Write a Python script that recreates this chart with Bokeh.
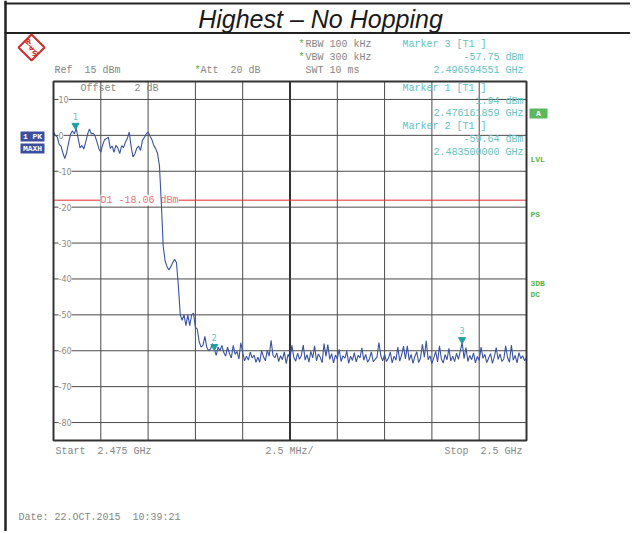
import numpy as np
from bokeh.plotting import figure
from bokeh.models import Range1d, Label
from bokeh.embed import file_html
from bokeh.resources import INLINE
from bokeh.core.properties import value

# ---------------- data ----------------
TITLE = "Highest \u2013 No Hopping"
START_GHZ = 2.475
STOP_GHZ = 2.500
REF_DBM = 15.0
BOTTOM_DBM = -85.0
X_DIVS = 10
Y_TICKS = [10, 0, -10, -20, -30, -40, -50, -60, -70, -80]
Y_TICK_LABELS = ["10", "0", "-10", "-20", "-30", "-40", "-50", "-60", "-70", "-80"]

LEVELS_DBM = [
    0.9, 0.0, -0.5, -2.5, -3.0, -5.0, -6.5, -4.7, -2.0, 0.3,
    1.3, 0.4, 1.94, -0.8, -3.5, -2.8, -3.8, -1.9, 0.3, 1.8,
    0.4, 0.6, -0.2, -1.9, -3.7, -4.7, -2.6, -1.2, -0.9, -0.5,
    -3.6, -3.0, -4.7, -2.8, -3.5, -5.1, -2.9, -3.4, -1.9, -0.9,
    0.9, -3.0, -6.0, -5.2, -3.6, -3.0, -4.2, -1.4, -0.6, 0.4,
    0.9, -0.2, -1.2, -2.8, -3.7, -5.0, -8.5,
    -19.0, -31.0, -35.0, -36.5, -37.5, -36.5, -35.5, -34.5, -35.5, -42.0,
    -50.0, -51.5, -50.0, -53.0, -50.0, -53.0, -50.0, -49.5, -53.5, -54.0,
    -57.5, -59.0, -58.5, -56.0, -59.0, -60.0, -59.5, -58.0, -59.64, -61.3,
    -59.0, -60.0, -58.5,
    -60.5, -61.5, -59.0, -60.8, -62.0, -58.5, -61.0, -60.2, -62.3, -57.8,
    -60.5, -62.8, -61.5, -62.6, -60.4, -62.0, -61.2, -63.2, -61.8, -63.2,
    -60.0, -61.7, -62.8, -59.9, -61.5, -57.1, -61.2, -62.0, -60.6, -63.0,
    -61.4, -62.5, -60.3, -63.6, -61.0, -62.2, -58.5, -61.8, -62.9, -60.7,
    -62.4, -61.3, -58.4, -62.6, -61.1, -63.2, -60.2, -62.0, -58.6, -62.8,
    -60.9, -61.9, -63.3, -58.0, -61.6, -58.3, -62.4, -60.8, -63.4, -61.2,
    -62.3, -59.6, -63.0, -61.4, -62.1, -60.1, -63.5, -61.5, -62.7, -60.5,
    -63.1, -61.3, -62.0, -59.2, -62.6, -61.0, -63.2, -62.2, -60.3, -63.0,
    -62.4, -61.7, -57.7, -61.4, -62.8, -61.0, -63.0, -62.1, -60.4, -63.4,
    -61.5, -62.6, -59.0, -62.9, -61.2, -58.7, -62.3, -58.6, -62.7, -61.0,
    -63.5, -61.6, -60.3, -63.3, -62.0, -58.2, -61.8, -57.2, -62.5, -61.4,
    -63.6, -62.0, -60.2, -63.1, -58.6, -62.3, -63.4, -61.1, -62.5, -59.3,
    -62.9, -61.5, -63.0, -60.7, -62.4, -60.1, -57.75, -62.2, -59.1, -63.0,
    -61.3, -62.5, -60.6, -63.4, -61.6, -62.7, -59.0, -62.1, -61.0, -63.3,
    -62.0, -60.8, -63.5, -61.7, -59.1, -62.4, -60.9, -63.0, -62.3, -58.6,
    -61.9, -63.2, -58.4, -62.6, -61.3, -63.4, -60.5, -62.2, -61.4, -62.8,
    -61.9,
]

MARKER_IDS = ["1", "2", "3"]
MARKER_FREQ_GHZ = [2.476161859, 2.4835, 2.496594551]
MARKER_LEVEL_DBM = [1.94, -59.64, -57.75]
D1_DBM = -18.06

# sweep points (evenly spaced analyzer sweep grid)
N = len(LEVELS_DBM)
FREQS_GHZ = list(np.linspace(START_GHZ, STOP_GHZ, N))

# ---------------- geometry ----------------
W, H = 630, 531
X0, Y0 = 0, 0                       # page offset of the canvas
PA_L, PA_R, PA_T, PA_B = 53, 526, 81, 440   # plot area in page pixels

p = figure(width=W, height=H,
           x_range=Range1d(X0, X0 + W), y_range=Range1d(Y0 + H, Y0),
           min_border=0, toolbar_location=None, output_backend="svg",
           x_axis_location=None, y_axis_location=None)
p.outline_line_color = None
p.background_fill_color = "white"
p.border_fill_color = "white"
p.grid.visible = False

gpp = (STOP_GHZ - START_GHZ) / (PA_R - PA_L)
dpp = (REF_DBM - BOTTOM_DBM) / (PA_B - PA_T)
p.extra_x_ranges = {"f": Range1d(START_GHZ - (PA_L - X0) * gpp,
                                 STOP_GHZ + (X0 + W - PA_R) * gpp)}
p.extra_y_ranges = {"db": Range1d(BOTTOM_DBM - (Y0 + H - PA_B) * dpp,
                                  REF_DBM + (PA_T - Y0) * dpp)}

MONO = "Liberation Mono"
GRAY = "#858585"
CYAN = "#5fc3c3"
GREEN = "#55b24b"
NB = "\u00a0"


def txt(x, y, s, color=GRAY, size="10px", font=MONO, align="left",
        baseline="middle", style="normal"):
    s = s.replace(" ", NB)
    p.text(x=[x], y=[y], text=[s], text_font=value(font), text_font_size=size,
           text_color=color, text_align=align, text_baseline=baseline,
           text_font_style=style)


# ---------------- graticule (underlay) ----------------
step = (STOP_GHZ - START_GHZ) / X_DIVS
vx = [START_GHZ + k * step for k in range(1, X_DIVS)]
p.segment(x0=vx, y0=[BOTTOM_DBM] * len(vx), x1=vx, y1=[REF_DBM] * len(vx),
          x_range_name="f", y_range_name="db", line_color="#4a4a4a", line_width=1,
          level="underlay")
p.segment(x0=[vx[4]], y0=[BOTTOM_DBM], x1=[vx[4]], y1=[REF_DBM],
          x_range_name="f", y_range_name="db", line_color="#333333", line_width=2,
          level="underlay")
p.segment(x0=[START_GHZ] * len(Y_TICKS), y0=Y_TICKS, x1=[STOP_GHZ] * len(Y_TICKS), y1=Y_TICKS,
          x_range_name="f", y_range_name="db", line_color="#4a4a4a", line_width=1,
          level="underlay")
p.segment(x0=[START_GHZ], y0=[D1_DBM], x1=[STOP_GHZ], y1=[D1_DBM],
          x_range_name="f", y_range_name="db", line_color="#e02a2a", line_width=1,
          level="underlay")

for v, lab in zip(Y_TICKS, Y_TICK_LABELS):
    p.add_layout(Label(x=58, y=v, y_range_name="db", text=lab, text_font="DejaVu Sans",
                       text_font_size="8px", text_color="#8a8a8a", text_baseline="middle",
                       background_fill_color="white", level="underlay"))

p.add_layout(Label(x=100, y=D1_DBM, y_range_name="db", text="D1 -18.06 dBm".replace(" ", NB),
                   text_font=MONO, text_font_size="10px", text_color="#e87474",
                   text_baseline="middle", background_fill_color="white", level="underlay"))

# ---------------- page decorations ----------------
p.segment(x0=[4], y0=[3], x1=[X0 + W], y1=[3], line_color="#222222", line_width=2)
p.segment(x0=[4], y0=[32.5], x1=[X0 + W], y1=[32.5], line_color="#222222", line_width=2)
p.segment(x0=[5], y0=[0], x1=[5], y1=[Y0 + H], line_color="#222222", line_width=2.5)
p.text(x=[320], y=[18], text=[TITLE], text_font=value("Liberation Sans"),
       text_font_size="25px", text_color="#1a1a1a", text_align="center",
       text_baseline="middle", text_font_style="italic")

# R&S logo
p.patch(x=[31, 44, 31, 18], y=[34, 47, 60, 47], fill_color=None,
        line_color="#d42a2a", line_width=2)
p.segment(x0=[24], y0=[41], x1=[38], y1=[53], line_color="#d42a2a", line_width=1)
txt(28, 41, "R", color="#d42a2a", size="7px", font="DejaVu Sans", align="center", style="bold")
txt(31, 47, "&", color="#d42a2a", size="6px", font="DejaVu Sans", align="center", style="bold")
txt(34, 53, "S", color="#d42a2a", size="7px", font="DejaVu Sans", align="center", style="bold")

# header texts
txt(298, 44, "*", color=GREEN)
txt(305, 44, "RBW 100 kHz")
txt(298, 57, "*", color=GREEN)
txt(305, 57, "VBW 300 kHz")
txt(54, 70, "Ref  15 dBm")
txt(194, 70, "*", color=GREEN)
txt(200, 70, "Att  20 dB")
txt(305, 70, "SWT 10 ms")

txt(402, 44, "Marker 3 [T1 ]", color=CYAN)
txt(523, 57, "-57.75 dBm", color=CYAN, align="right")
txt(523, 70, "2.496594551 GHz", color=CYAN, align="right")

# left status boxes
p.quad(left=[20], right=[44], top=[131], bottom=[141], fill_color="#3c4f9e", line_color=None)
p.quad(left=[20], right=[44], top=[143], bottom=[153], fill_color="#3c4f9e", line_color=None)
txt(32, 136, "1 PK", color="white", size="8px", align="center", style="bold")
txt(32, 148, "MAXH", color="white", size="8px", align="center", style="bold")

# right status labels
p.quad(left=[529], right=[547], top=[108], bottom=[118], fill_color="#5cb85c", line_color=None)
txt(538, 113, "A", color="white", size="8px", align="center", style="bold")
txt(530, 159, "LVL", color=GREEN, size="8px", style="bold")
txt(530, 214, "PS", color=GREEN, size="8px", style="bold")
txt(530, 283, "3DB", color=GREEN, size="8px", style="bold")
txt(530, 294, "DC", color=GREEN, size="8px", style="bold")

# footer texts
txt(55, 451, "Start  2.475 GHz")
txt(265, 451, "2.5 MHz/")
txt(522, 451, "Stop  2.5 GHz", align="right")
txt(18, 517, "Date: 22.OCT.2015  10:39:21")

txt(80, 88, "Offset   2 dB")
txt(402, 88, "Marker 1 [T1 ]", color=CYAN)
txt(523, 100.5, "1.94 dBm", color=CYAN, align="right")
txt(523, 113, "2.476161859 GHz", color=CYAN, align="right")
txt(402, 126, "Marker 2 [T1 ]", color=CYAN)
txt(523, 139, "-59.64 dBm", color=CYAN, align="right")
txt(523, 152, "2.483500000 GHz", color=CYAN, align="right")

# ---------------- trace ----------------
p.line(FREQS_GHZ, LEVELS_DBM, x_range_name="f", y_range_name="db",
       line_color="#3953a5", line_width=1.1)

# markers
p.scatter(MARKER_FREQ_GHZ, [v + 3 * dpp for v in MARKER_LEVEL_DBM],
          x_range_name="f", y_range_name="db", marker="inverted_triangle",
          size=7, fill_color="#1fa0a0", line_color="#1fa0a0")
p.text(MARKER_FREQ_GHZ, MARKER_LEVEL_DBM, text=MARKER_IDS, x_range_name="f", y_range_name="db",
       y_offset=-12, text_font=value("DejaVu Sans"), text_font_size="8px",
       text_color="#5fc3c3", text_align="center", text_baseline="middle")

# frame
p.quad(left=[START_GHZ], right=[STOP_GHZ], top=[REF_DBM], bottom=[BOTTOM_DBM],
       x_range_name="f", y_range_name="db", fill_color=None,
       line_color="#333333", line_width=2)

open("out.html", "w").write(file_html(p, INLINE))
